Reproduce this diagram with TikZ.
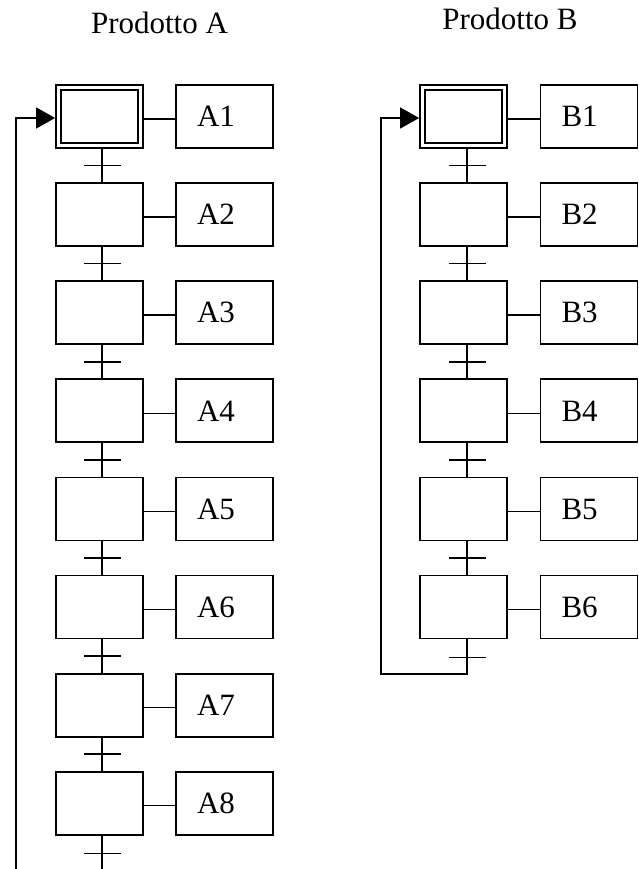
\documentclass[tikz,border=0pt]{standalone}
\usepackage{fontspec}
\setmainfont{Liberation Serif}
\usetikzlibrary{arrows.meta,calc}
\begin{document}
\begin{tikzpicture}[x=1pt,y=-1pt,
  stepbox/.style={draw,line width=1.8pt,minimum width=87pt,minimum height=63pt,inner sep=0pt},
  actionbox/.style={draw,line width=1.8pt,minimum height=63pt,text width=55pt,
    inner xsep=21pt,inner ysep=0pt,align=left,text height=20.5pt,text depth=0pt,
    font=\fontsize{31}{36}\selectfont},
  link/.style={line width=1.5pt},
  tick/.style={line width=1.5pt},
  loop/.style={line width=1.5pt,-{Triangle[length=19pt,width=21pt]}},
  title/.style={font=\fontsize{31}{36}\selectfont,anchor=base}]
\useasboundingbox (0,0) rectangle (639,869);

% column titles
\node[title] (titA) at (159.5,34) {Prodotto A};
\node[title] (titB) at (510,30) {Prodotto B};

% ---- Prodotto A: steps, actions and step-action links ----
\foreach \i in {1,...,8} {
  \pgfmathsetmacro\yc{116.5+98.1*(\i-1)}
  \node[stepbox] (a\i) at (99.5,\yc) {};
  \node[actionbox] (pa\i) at (224.5,\yc) {A\i};
  \draw[link] ([yshift=-2.5pt]a\i.east) -- ([yshift=-2.5pt]pa\i.west);
}
% transitions between consecutive steps
\foreach \i [evaluate=\i as \j using int(\i+1)] in {1,...,7} {
  \draw[link] ([xshift=2.5pt]a\i.south) -- ([xshift=2.5pt]a\j.north);
  \coordinate (ta\i) at ($([xshift=2.5pt]a\i.south)!0.5!([xshift=2.5pt]a\j.north)$);
  \draw[tick] ([xshift=-18.5pt]ta\i) -- ([xshift=18.5pt]ta\i);
}
% last transition and return to the initial step
\coordinate (ta8) at ([xshift=2.5pt,yshift=-18pt]a8.south);
\draw[tick] ([xshift=-18.5pt]ta8) -- ([xshift=18.5pt]ta8);
\coordinate (loopA) at (16,900);
\draw[loop] ([xshift=2.5pt]a8.south) |- (loopA) |- ([yshift=-1.5pt]a1.west);
% initial step: inner frame
\draw[line width=2.2pt] ([shift={(6pt,-6pt)}]a1.north west) rectangle ([shift={(-6pt,6pt)}]a1.south east);

% ---- Prodotto B ----
\foreach \i in {1,...,6} {
  \pgfmathsetmacro\yc{116.5+98.1*(\i-1)}
  \node[stepbox] (b\i) at (463.5,\yc) {};
  \node[actionbox] (pb\i) at (589,\yc) {B\i};
  \draw[link] ([yshift=-2.5pt]b\i.east) -- ([yshift=-2.5pt]pb\i.west);
}
\foreach \i [evaluate=\i as \j using int(\i+1)] in {1,...,5} {
  \draw[link] ([xshift=3.5pt]b\i.south) -- ([xshift=3.5pt]b\j.north);
  \coordinate (tb\i) at ($([xshift=3.5pt]b\i.south)!0.5!([xshift=3.5pt]b\j.north)$);
  \draw[tick] ([xshift=-18.5pt]tb\i) -- ([xshift=18.5pt]tb\i);
}
\coordinate (tb6) at ([xshift=3.5pt,yshift=-18pt]b6.south);
\draw[tick] ([xshift=-18.5pt]tb6) -- ([xshift=18.5pt]tb6);
\coordinate (loopB) at (381,674);
\draw[loop] ([xshift=3.5pt]b6.south) |- (loopB) |- ([yshift=-1.5pt]b1.west);
\draw[line width=2.2pt] ([shift={(6pt,-6pt)}]b1.north west) rectangle ([shift={(-6pt,6pt)}]b1.south east);
\end{tikzpicture}
\end{document}
